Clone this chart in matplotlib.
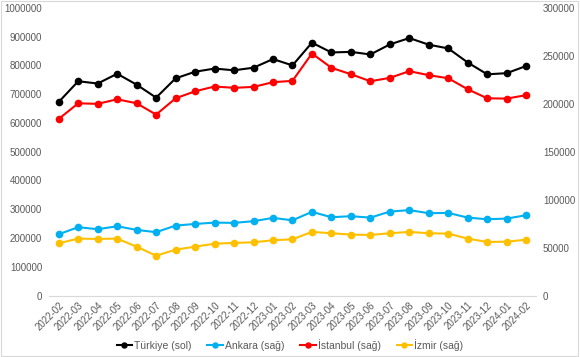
import matplotlib
matplotlib.use('Agg')
import matplotlib.pyplot as plt
from matplotlib.patches import Rectangle

plt.rcParams['font.family'] = ['Liberation Sans', 'DejaVu Sans']

# Months on the x axis
months = ['2022-02', '2022-03', '2022-04', '2022-05', '2022-06', '2022-07',
          '2022-08', '2022-09', '2022-10', '2022-11', '2022-12', '2023-01',
          '2023-02', '2023-03', '2023-04', '2023-05', '2023-06', '2023-07',
          '2023-08', '2023-09', '2023-10', '2023-11', '2023-12', '2024-01',
          '2024-02']

# Left axis (sol)
turkiye = [673000, 745000, 737000, 771000, 733000, 688000, 755000, 778000,
           789000, 783000, 792000, 822000, 800000, 879000, 845000, 847000,
           838000, 873000, 895000, 872000, 859000, 810000, 769000, 773000,
           798000]

# Right axis (sag)
ankara = [64000, 71300, 69200, 72300, 68500, 66100, 73000, 74700, 76100,
          75800, 77600, 81000, 78500, 87300, 81700, 82800, 81300, 87600,
          89100, 85900, 86200, 81300, 79600, 80300, 83800]
istanbul = [184200, 200500, 199900, 204700, 200500, 188700, 205700, 213000,
            218000, 216600, 217600, 222500, 223900, 252400, 237500, 230800,
            223500, 227000, 234000, 229800, 226600, 215100, 205700, 205400,
            209000]
izmir = [54600, 59400, 59100, 59400, 51000, 41600, 47900, 51000, 54100,
         54900, 55600, 57700, 58700, 66400, 65000, 63600, 63200, 65000,
         66400, 65000, 64600, 59400, 55900, 56200, 58300]

left_ticks = list(range(0, 1000001, 100000))
right_ticks = list(range(0, 300001, 50000))

tick_color = '#595959'

fig = plt.figure(figsize=(5.8, 3.57), dpi=100)
ax1 = fig.add_axes([0.0845, 0.172, 0.8395, 0.806])
ax2 = ax1.twinx()

x = range(len(months))
style = dict(linewidth=1.5, marker='o', markersize=4.5)
l1, = ax1.plot(x, turkiye, color='black', label='Türkiye (sol)', **style)
l2, = ax2.plot(x, ankara, color='#00B0F0', label='Ankara (sağ)', **style)
l3, = ax2.plot(x, istanbul, color='#FF0000', label='İstanbul (sağ)', **style)
l4, = ax2.plot(x, izmir, color='#FFC000', label='İzmir (sağ)', **style)

ax1.set_xlim(-0.5, len(months) - 0.5)
ax1.set_ylim(0, 1000000)
ax2.set_ylim(0, 300000)
ax1.set_yticks(left_ticks)
ax1.set_yticklabels([str(t) for t in left_ticks])
ax2.set_yticks(right_ticks)
ax2.set_yticklabels([str(t) for t in right_ticks])
ax1.set_xticks(list(x))
ax1.set_xticklabels(months, rotation=45, ha='right', rotation_mode='anchor')

for ax in (ax1, ax2):
    for s in ax.spines.values():
        s.set_visible(False)
    ax.tick_params(length=0, labelsize=7, labelcolor=tick_color)
ax1.spines['bottom'].set_visible(True)
ax1.spines['bottom'].set_color('#D9D9D9')
ax1.tick_params(axis='y', pad=5)
ax2.tick_params(axis='y', pad=5)
ax1.tick_params(axis='x', pad=3)

fig.legend(handles=[l1, l2, l3, l4], loc='center', bbox_to_anchor=(0.5, 0.034),
           ncol=4, frameon=False, fontsize=7.5, handlelength=1.5, markerscale=0.8,
           columnspacing=1.5, handletextpad=0.2, labelcolor=tick_color)

fig.patches.append(Rectangle((0.002, 0.003), 0.995, 0.993, transform=fig.transFigure,
                             fill=False, edgecolor='#D9D9D9', linewidth=0.8))

fig.savefig('out.png', dpi=100)
